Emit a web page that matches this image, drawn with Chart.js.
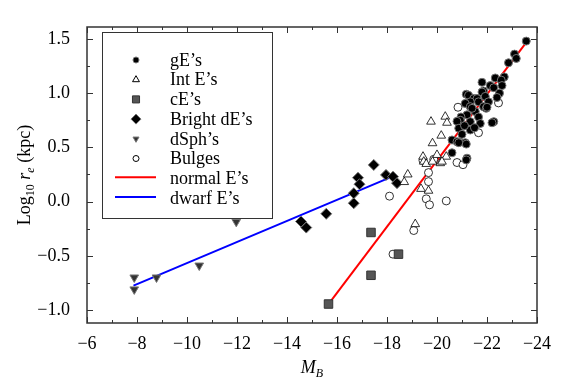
<!DOCTYPE html>
<html>
<head>
<meta charset="utf-8">
<script src="https://cdn.jsdelivr.net/npm/chart.js@4"></script>
<style>
    body { margin: 0; background: #fff; }
    #wrap { width: 568px; height: 387px; }
</style>
</head>
<body>
<div id="wrap"><canvas id="chart" width="568" height="387"></canvas></div>
<script>
// DATA (x = M_B, y = log10 r_e)
const gE = [
    [-23.57, 1.48], [-23.1, 1.36], [-23.17, 1.32], [-22.86, 1.28], [-22.69, 1.15], [-22.33, 1.14],
    [-22.57, 1.12], [-21.8, 1.10], [-22.6, 1.07], [-22.13, 1.07], [-22.27, 1.05], [-21.86, 1.02],
    [-22.5, 1.00], [-21.8, 1.01], [-21.17, 0.99], [-21.26, 0.98], [-21.93, 0.97], [-21.47, 0.95],
    [-21.6, 0.95], [-21.66, 0.92], [-22.06, 0.92], [-21.33, 0.92], [-21.13, 0.905], [-21.33, 0.875],
    [-21.86, 0.875], [-21.97, 0.86], [-22.0, 0.87], [-21.53, 0.83], [-21.2, 0.80], [-21.66, 0.78],
    [-20.96, 0.78], [-20.93, 0.75], [-20.8, 0.74], [-21.33, 0.737], [-22.27, 0.737], [-22.2, 0.727],
    [-21.73, 0.72], [-20.87, 0.676], [-21.33, 0.66], [-21.1, 0.70], [-20.6, 0.568], [-20.8, 0.552],
    [-21.13, 0.543], [-20.87, 0.543], [-21.17, 0.53], [-20.6, 0.45], [-21.2, 0.40], [-21.17, 0.384],
    [-21.0, 0.62], [-21.5, 0.68], [-21.4, 0.86], [-22.4, 0.96]
];
const intE = [
    [-19.76, 0.737], [-20.33, 0.783], [-20.4, 0.727], [-20.17, 0.608], [-19.82, 0.538], [-19.44, 0.414],
    [-20.0, 0.43], [-20.37, 0.414], [-19.47, 0.368], [-19.57, 0.347], [-19.82, 0.368], [-20.13, 0.354],
    [-20.2, 0.368], [-18.83, 0.25], [-18.69, 0.18], [-19.36, 0.117], [-19.66, 0.10], [-19.13, -0.208]
];
const cE = [[-15.66, -0.945], [-17.36, -0.285], [-17.36, -0.68], [-18.46, -0.485]];
const brightDE = [
    [-14.56, -0.184], [-14.77, -0.24], [-15.57, -0.113], [-16.67, -0.015], [-16.67, 0.077], [-16.84, 0.22],
    [-16.9, 0.16], [-17.47, 0.338], [-17.96, 0.246], [-18.24, 0.23], [-18.4, 0.17]
];
const dSph = [[-7.89, -0.70], [-7.89, -0.81], [-8.78, -0.70], [-10.49, -0.59], [-11.97, -0.187]];
const bulges = [
    [-18.1, 0.05], [-18.24, -0.485], [-19.07, -0.267], [-20.37, 0.006], [-19.66, 0.184], [-19.57, 0.025],
    [-19.7, -0.03], [-20.8, 0.36], [-21.04, 0.34], [-19.66, 0.267], [-19.44, 0.378], [-21.66, 0.635],
    [-20.84, 0.87], [-22.46, 0.91], [-20.9, 0.55], [-19.87, 0.39]
];
// fit lines (end points)
const normalFit = [[-15.66, -0.945], [-23.64, 1.489]];
const dwarfFit = [[-7.86, -0.776], [-18.37, 0.246]];

const xTicks = [-6, -8, -10, -12, -14, -16, -18, -20, -22, -24];
const yTicks = [-1.0, -0.5, 0.0, 0.5, 1.0, 1.5];

const FONT = "'Liberation Serif', 'DejaVu Serif', serif";

function pts(arr) {
    return arr.map(p => ({x: p[0], y: p[1]}));
}
function minus(s) {
    return s.replace('-', '\u2212');
}

// frame + inward ticks, like the original plot
const framePlugin = {
    id: 'frame',
    afterDraw(chart) {
        const ctx = chart.ctx;
        const a = chart.chartArea;
        const xs = chart.scales.x, ys = chart.scales.y;
        ctx.save();
        ctx.strokeStyle = '#333';
        ctx.lineWidth = 1.5;
        ctx.strokeRect(a.left, a.top, a.right - a.left, a.bottom - a.top);
        ctx.lineWidth = 1;
        ctx.beginPath();
        for (let v = -24; v <= -6; v += 1) {
            const px = Math.round(xs.getPixelForValue(v)) + 0.5;
            const len = (v % 2 === 0) ? 6 : 3;
            ctx.moveTo(px, a.bottom); ctx.lineTo(px, a.bottom - len);
            ctx.moveTo(px, a.top); ctx.lineTo(px, a.top + len);
        }
        for (let i = -4; i <= 6; i++) {
            const v = i * 0.25;
            const py = Math.round(ys.getPixelForValue(v)) + 0.5;
            const len = (i % 2 === 0) ? 6 : 3;
            ctx.moveTo(a.left, py); ctx.lineTo(a.left + len, py);
            ctx.moveTo(a.right, py); ctx.lineTo(a.right - len, py);
        }
        ctx.stroke();

        // axis titles
        ctx.fillStyle = '#000';
        ctx.textBaseline = 'alphabetic';
        // x: M_B
        ctx.font = 'italic 18px ' + FONT;
        const wM = ctx.measureText('M').width;
        ctx.font = 'italic 12px ' + FONT;
        const wB = ctx.measureText('B').width;
        const cx = (a.left + a.right) / 2;
        let x0 = cx - (wM + wB) / 2;
        ctx.font = 'italic 18px ' + FONT;
        ctx.fillText('M', x0, 373);
        ctx.font = 'italic 12px ' + FONT;
        ctx.fillText('B', x0 + wM, 377);

        // y: Log10 r_e (kpc)
        const parts = [
            {t: 'Log', f: '18px ' + FONT, dy: 0},
            {t: '10', f: '12px ' + FONT, dy: 4},
            {t: ' ', f: '18px ' + FONT, dy: 0},
            {t: 'r', f: 'italic 18px ' + FONT, dy: 0},
            {t: 'e', f: 'italic 12px ' + FONT, dy: 4},
            {t: ' (kpc)', f: '18px ' + FONT, dy: 0}
        ];
        let total = 0;
        parts.forEach(p => { ctx.font = p.f; p.w = ctx.measureText(p.t).width; total += p.w; });
        ctx.translate(30, (a.top + a.bottom) / 2);
        ctx.rotate(-Math.PI / 2);
        let px = -total / 2;
        parts.forEach(p => { ctx.font = p.f; ctx.fillText(p.t, px, p.dy); px += p.w; });
        ctx.restore();

        // legend
        ctx.save();
        ctx.strokeStyle = '#333';
        ctx.lineWidth = 1;
        ctx.fillStyle = '#fff';
        ctx.fillRect(102.5, 32.5, 170, 186);
        ctx.strokeRect(102.5, 32.5, 170, 186);
        const items = chart.data.datasets;
        items.forEach((ds, i) => {
            const y = 60 + i * 19.7;
            if (ds.showLine) {
                ctx.strokeStyle = ds.borderColor;
                ctx.lineWidth = 2;
                ctx.beginPath();
                ctx.moveTo(115, y - 1); ctx.lineTo(156, y - 1);
                ctx.stroke();
            } else {
                ctx.fillStyle = ds.backgroundColor;
                ctx.strokeStyle = ds.borderColor;
                ctx.lineWidth = 1;
                Chart.helpers.drawPoint(ctx, {
                    pointStyle: ds.pointStyle,
                    rotation: ds.rotation || 0,
                    radius: ds.legendRadius,
                    borderWidth: 1
                }, 136, y);
            }
            ctx.fillStyle = '#000';
            ctx.font = '18px ' + FONT;
            ctx.textBaseline = 'middle';
            ctx.fillText(ds.label, 170, y + 1);
        });
        ctx.restore();
    }
};

const chart = new Chart(document.getElementById('chart').getContext('2d'), {
    type: 'scatter',
    data: {
        datasets: [
            {label: 'gE\u2019s', data: pts(gE), pointStyle: 'circle', pointRadius: 4, legendRadius: 3,
                backgroundColor: '#000', borderColor: '#777', borderWidth: 1},
            {label: 'Int E\u2019s', data: pts(intE), pointStyle: 'triangle', pointRadius: 5, legendRadius: 4,
                backgroundColor: '#fff', borderColor: '#000', borderWidth: 0.8},
            {label: 'cE\u2019s', data: pts(cE), pointStyle: 'rect', pointRadius: 6, legendRadius: 5,
                backgroundColor: '#555', borderColor: '#333', borderWidth: 1},
            {label: 'Bright dE\u2019s', data: pts(brightDE), pointStyle: 'rectRot', pointRadius: 5.5, legendRadius: 5,
                backgroundColor: '#000', borderColor: '#777', borderWidth: 1},
            {label: 'dSph\u2019s', data: pts(dSph), pointStyle: 'triangle', rotation: 180, pointRadius: 5, legendRadius: 3.5,
                backgroundColor: '#333', borderColor: '#777', borderWidth: 1},
            {label: 'Bulges', data: pts(bulges), pointStyle: 'circle', pointRadius: 4, legendRadius: 3,
                backgroundColor: '#fff', borderColor: '#000', borderWidth: 0.8},
            {label: 'normal E\u2019s', data: pts(normalFit), showLine: true, pointRadius: 0,
                borderColor: '#ff0000', borderWidth: 2},
            {label: 'dwarf E\u2019s', data: pts(dwarfFit), showLine: true, pointRadius: 0,
                borderColor: '#0000ff', borderWidth: 2}
        ]
    },
    options: {
        responsive: false,
        animation: false,
        devicePixelRatio: 1,
        layout: {padding: {top: 27, right: 31, left: 0, bottom: 0}},
        plugins: {legend: {display: false}, tooltip: {enabled: false}},
        scales: {
            x: {
                type: 'linear', min: -24, max: -6, reverse: true,
                grid: {display: false}, border: {display: false},
                afterBuildTicks: s => { s.ticks = xTicks.map(v => ({value: v})); },
                afterFit: s => { s.height = 64; },
                ticks: {
                    color: '#000', padding: 2, font: {family: FONT, size: 18},
                    callback: v => minus(String(v))
                }
            },
            y: {
                type: 'linear', min: -1.12, max: 1.61,
                grid: {display: false}, border: {display: false},
                afterBuildTicks: s => { s.ticks = yTicks.map(v => ({value: v})); },
                afterFit: s => { s.width = 87; },
                ticks: {
                    color: '#000', padding: 9, font: {family: FONT, size: 18},
                    callback: v => minus(v.toFixed(1))
                }
            }
        }
    },
    plugins: [framePlugin]
});
</script>
</body>
</html>
